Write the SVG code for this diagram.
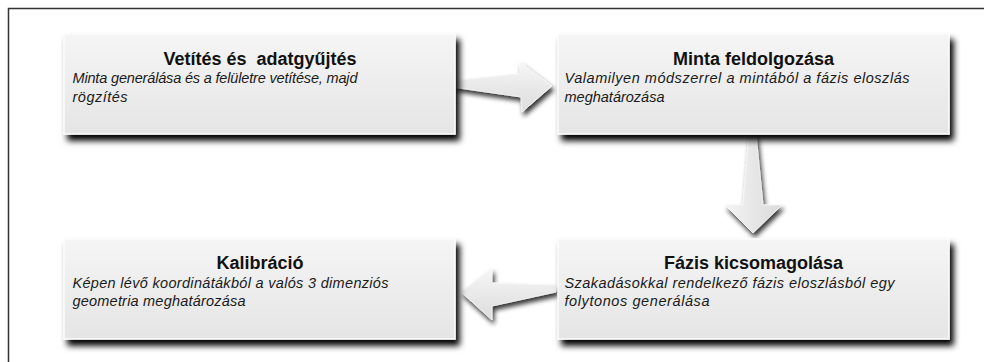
<svg xmlns="http://www.w3.org/2000/svg" width="985" height="362" viewBox="0 0 985 362">
<defs>
  <linearGradient id="boxFill" x1="0" y1="0" x2="0" y2="1">
    <stop offset="0" stop-color="#f5f5f5"/>
    <stop offset="1" stop-color="#e5e5e5"/>
  </linearGradient>
  <linearGradient id="arrowFillH" x1="0" y1="0" x2="0" y2="1">
    <stop offset="0" stop-color="#f6f6f6"/>
    <stop offset="1" stop-color="#dcdcdc"/>
  </linearGradient>
  <linearGradient id="arrowFillV" x1="0" y1="0" x2="1" y2="0">
    <stop offset="0" stop-color="#f4f4f4"/>
    <stop offset="1" stop-color="#dadada"/>
  </linearGradient>
  <filter id="boxShadow" x="-10%" y="-20%" width="125%" height="150%">
    <feGaussianBlur in="SourceAlpha" stdDeviation="3"/>
    <feOffset dx="4" dy="6" result="b"/>
    <feComponentTransfer><feFuncA type="linear" slope="1"/></feComponentTransfer>
    <feMerge><feMergeNode/><feMergeNode in="SourceGraphic"/></feMerge>
  </filter>
  <filter id="arrowShadow" x="-30%" y="-30%" width="170%" height="170%">
    <feGaussianBlur in="SourceAlpha" stdDeviation="2.5"/>
    <feOffset dx="2" dy="4" result="b"/>
    <feComponentTransfer><feFuncA type="linear" slope="0.8"/></feComponentTransfer>
    <feMerge><feMergeNode/><feMergeNode in="SourceGraphic"/></feMerge>
  </filter>
</defs>
<style>
  .box { fill: url(#boxFill); stroke: #fbfbfb; stroke-width: 1.5; filter: url(#boxShadow); }
  .title { font-family: "Liberation Sans", Arial, sans-serif; font-weight: bold; font-size: 18px; fill: #111; text-anchor: middle; white-space: pre; }
  .sub { font-family: "Liberation Sans", Arial, sans-serif; font-style: italic; font-size: 14.5px; fill: #1a1a1a; }
  .arrow { stroke: #f8f8f8; stroke-width: 0.8; filter: url(#arrowShadow); }
  .frame { fill: none; stroke: #333; stroke-width: 1.5; }
</style>
<rect width="985" height="362" fill="#ffffff"/>
<path class="frame" d="M8.5,362 V8.5 H984"/>

<g id="connectors">
  <path class="arrow" fill="url(#arrowFillH)" d="M455,80.5 L520,73.5 L520,62 L552,86 L522,112 L521,97 L455,87.5 Z"/>
  <path class="arrow" fill="url(#arrowFillV)" d="M749,134 L756,134 L763,205 L782,205 L753,233 L725,205 L743,205 Z"/>
  <path class="arrow" fill="url(#arrowFillH)" d="M556,285 L556,292 L492,306 L492,320 L461,292 L492,268 L492,283 Z"/>
</g>

<g id="node-vetites">
  <rect class="box" x="64" y="34" width="391" height="100"/>
  <text class="title" x="260" y="65">Vetítés és  adatgyűjtés</text>
  <text class="sub" x="72.5" y="83" textLength="285" lengthAdjust="spacing">Minta generálása és a felületre vetítése, majd</text>
  <text class="sub" x="72.5" y="101.5" textLength="55" lengthAdjust="spacing">rögzítés</text>
</g>

<g id="node-minta">
  <rect class="box" x="558" y="34" width="391" height="100"/>
  <text class="title" x="753.5" y="65">Minta feldolgozása</text>
  <text class="sub" x="564.5" y="83" textLength="345" lengthAdjust="spacing">Valamilyen módszerrel a mintából a fázis eloszlás</text>
  <text class="sub" x="564.5" y="101.5" textLength="100" lengthAdjust="spacing">meghatározása</text>
</g>

<g id="node-kalibracio">
  <rect class="box" x="64" y="239" width="391" height="100"/>
  <text class="title" x="260" y="269">Kalibráció</text>
  <text class="sub" x="72.5" y="288" textLength="316" lengthAdjust="spacing">Képen lévő koordinátákból a valós 3 dimenziós</text>
  <text class="sub" x="72.5" y="306" textLength="173" lengthAdjust="spacing">geometria meghatározása</text>
</g>

<g id="node-fazis">
  <rect class="box" x="558" y="239" width="391" height="100"/>
  <text class="title" x="753.5" y="269">Fázis kicsomagolása</text>
  <text class="sub" x="564.5" y="288" textLength="330" lengthAdjust="spacing">Szakadásokkal rendelkező fázis eloszlásból egy</text>
  <text class="sub" x="564.5" y="306" textLength="145" lengthAdjust="spacing">folytonos generálása</text>
</g>
</svg>
